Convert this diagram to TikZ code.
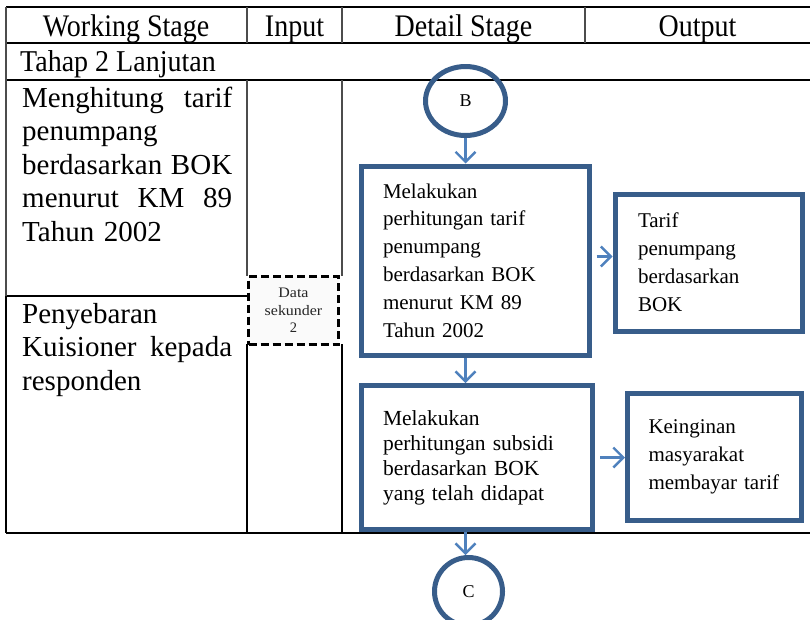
\documentclass[tikz,border=0pt]{standalone}
\usepackage{fontspec}
\setmainfont{Liberation Serif}
\usetikzlibrary{arrows.meta,shapes.geometric}
\definecolor{boxblue}{RGB}{56,93,138}
\definecolor{arrowblue}{RGB}{79,129,189}
% a justified line: interword glue of the font, stretched to the cell width
\newcommand{\fullline}[1]{\makebox[210pt][s]{\spaceskip=0pt\xspaceskip=0pt #1}}
\begin{document}
\begin{tikzpicture}[x=1pt,y=-1pt,
  rule/.style={line width=2.6pt,black},
  softrule/.style={line width=1.4pt,black!70},
  headtext/.style={inner sep=0pt,anchor=base,font=\fontsize{28}{30}\selectfont},
  celltext/.style={inner sep=0pt,anchor=base west,text width=210pt,align=left,
    font=\fontsize{29}{33.5}\selectfont},
  proc/.style={draw=boxblue,line width=5pt,fill=white,align=left,inner sep=0pt},
  connector/.style={draw=boxblue,line width=5pt,ellipse,inner sep=0pt,
    font=\fontsize{18}{20}\selectfont},
  flow/.style={draw=arrowblue,line width=2.4pt,
    -{Straight Barb[length=10pt,width=20pt,line width=2.4pt]}},
  datastore/.style={draw=black,line width=3pt,dash pattern=on 8pt off 4pt,
    fill=black!2,align=center,inner sep=0pt,text=black!85,
    font=\fontsize{14.5}{17.5}\selectfont}]
\useasboundingbox (0,0) rectangle (810,619);
\clip (0,0) rectangle (810,619);

% table grid
\draw[rule] (6,7) -- (812,7);
\draw[rule] (6,43) -- (812,43);
\draw[rule] (6,80) -- (812,80);
\draw[rule] (6,296) -- (247,296);
\draw[rule] (6,533) -- (812,533);
\draw[softrule] (6,7) -- (6,296);
\draw[rule] (6,296) -- (6,533);
\draw[softrule] (247,7) -- (247,43);
\draw[softrule] (342,7) -- (342,43);
\draw[softrule] (585,7) -- (585,43);
\draw[softrule] (247,80) -- (247,276);
\draw[softrule] (342,80) -- (342,276);
\draw[rule] (247,344) -- (247,533);
\draw[rule] (342,344) -- (342,533);

% header row
\node[headtext] (hwork) at (126,36) {\scalebox{1}[1.12]{Working Stage}};
\node[headtext] (hin) at (294.5,36) {\scalebox{1}[1.12]{Input}};
\node[headtext] (hdet) at (463.5,36) {\scalebox{1}[1.12]{Detail Stage}};
\node[headtext] (hout) at (697.5,36) {\scalebox{1}[1.12]{Output}};
\node[headtext,anchor=base west] (stage) at (20,71) {\scalebox{1}[1.08]{Tahap 2 Lanjutan}};

% working stage column
\node[celltext] (work1) at (22,107) {%
  \fullline{Menghitung tarif}\\
  penumpang\\
  \fullline{berdasarkan BOK}\\
  \fullline{menurut KM 89}\\
  Tahun 2002};
\node[celltext] (work2) at (22,323) {%
  Penyebaran\\
  \fullline{Kuisioner kepada}\\
  responden};

% input column
\node[datastore,minimum width=90pt,minimum height=68pt] (data) at (293.5,310.5)
  {\scalebox{1.1}[1]{Data}\\\scalebox{1.1}[1]{sekunder}\\2};

% detail stage flow
\node[connector,minimum width=80pt,minimum height=69pt] (B) at (465.5,101) {B};
\node[proc,minimum width=228pt,minimum height=189pt,text width=184pt,
  font=\fontsize{21}{27.8}\selectfont] (calc1) at (475,260.5)
  {Melakukan\\perhitungan tarif\\penumpang\\berdasarkan BOK\\menurut KM 89\\Tahun 2002};
\node[proc,minimum width=231pt,minimum height=144pt,text width=188pt,
  font=\fontsize{21.5}{25}\selectfont] (calc2) at (477,457.5)
  {Melakukan\\perhitungan subsidi\\berdasarkan BOK\\yang telah didapat};
\node[connector,minimum width=68pt,minimum height=68pt] (C) at (468.5,591.5) {C};

% output column
\node[proc,minimum width=187pt,minimum height=137pt,text width=141pt,
  font=\fontsize{21}{28}\selectfont] (out1) at (708.5,262.5)
  {Tarif\\penumpang\\berdasarkan\\BOK};
\node[proc,minimum width=174pt,minimum height=127pt,text width=132pt,
  font=\fontsize{21}{28}\selectfont] (out2) at (714.5,457)
  {Keinginan\\masyarakat\\membayar tarif};

% connectors
\draw[flow] (B.south) -- (B.south |- calc1.north);
\draw[flow] (calc1.south -| B.south) -- (calc2.north -| B.south);
\draw[flow] (calc2.south -| B.south) -- (C.north -| B.south);
\draw[flow,shorten <=5pt] ([yshift=4pt]calc1.east) -- ([yshift=4pt]calc1.east -| out1.west);
\draw[flow,shorten <=5pt] (calc2.east) -- (calc2.east -| out2.west);
\end{tikzpicture}
\end{document}
